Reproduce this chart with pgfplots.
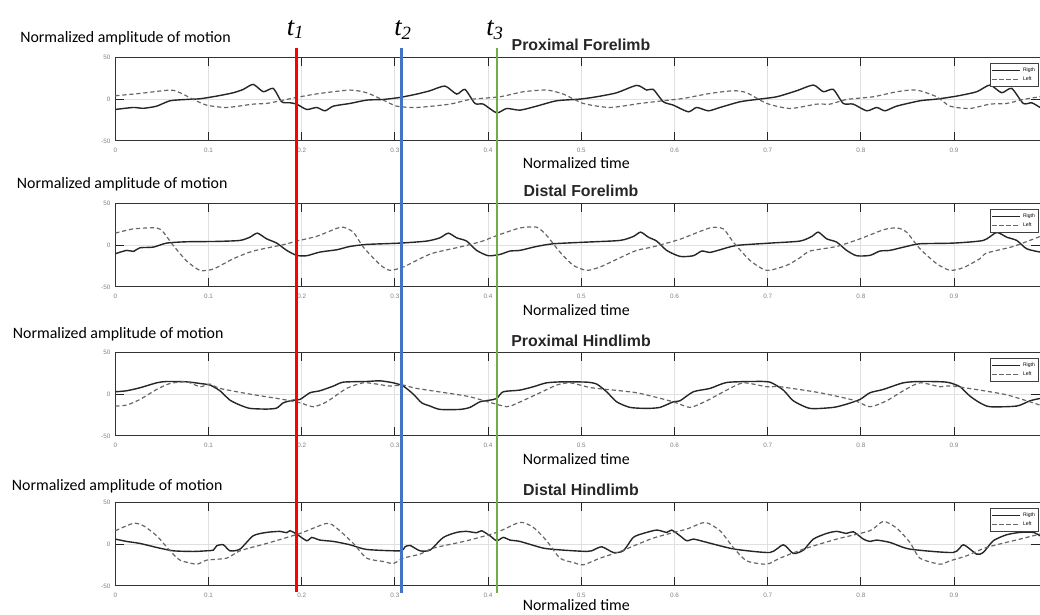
\documentclass[border=0pt]{standalone}
\usepackage{fontspec}
\setmainfont{Carlito}
\newfontfamily\arialf{Liberation Sans}
\newfontfamily\timesf{Liberation Serif}
\usepackage{pgfplots}
\pgfplotsset{compat=1.18}
\definecolor{tred}{RGB}{255,0,0}
\definecolor{tblue}{RGB}{68,114,196}
\definecolor{tgreen}{RGB}{112,173,71}

\pgfplotsset{
  panel/.style={
    scale only axis, width=23.1175cm, height=2.09cm, anchor=north west,
    xmin=0, xmax=0.9922, ymin=-50, ymax=50,
    xtick={0,0.1,0.2,0.3,0.4,0.5,0.6,0.7,0.8,0.9},
    xticklabels={0,0.1,0.2,0.3,0.4,0.5,0.6,0.7,0.8,0.9},
    ytick={-50,0,50},
    /pgf/number format/assume math mode=true,
    ticklabel style={font=\arialf\fontsize{4.5}{5}\selectfont, text=black!50},
    xticklabel style={yshift=-1.6pt},
    tick align=inside, major tick length=0.22cm,
    tick style={black!85, line width=0.6pt},
    grid=major, grid style={black!12, line width=0.7pt},
    axis line style={black!80, line width=0.7pt},
    legend style={at={(1,1)}, anchor=north east, xshift=-0.6pt, yshift=-4.3pt,
      font=\arialf\fontsize{3.6}{4}\selectfont, draw=black!75, line width=0.5pt,
      inner sep=0.8pt, row sep=-1.5pt},
    legend cell align=left,
    legend image code/.code={\draw[#1] (0cm,0cm) -- (0.68cm,0cm);},
  },
  rgt/.style={black!85, line width=1pt, smooth, tension=0.4},
  lft/.style={black!60, line width=0.85pt, dash pattern=on 3pt off 2pt, smooth, tension=0.4},
}

\begin{document}
\begin{tikzpicture}
\useasboundingbox (0,0) rectangle (26cm,-15.35cm);

% Proximal Forelimb
\begin{axis}[panel, at={(2.8825cm,-1.4325cm)}]
\addplot[rgt] coordinates {(0,-12.4)(0.0193,-10)(0.0301,-11)(0.0444,-8.4)(0.0587,-2)(0.0766,-0.4)(0.0909,0.4)(0.1088,3.6)(0.1266,7.6)(0.1373,11.6)(0.148,17.6)(0.1588,8.8)(0.1695,12.8)(0.1785,-3.2)(0.1874,-4.4)(0.1946,-6)(0.2054,-12.4)(0.216,-10)(0.225,-14)(0.234,-8.4)(0.2518,-5.2)(0.2697,-1.2)(0.2876,-0.4)(0.3055,2)(0.3234,6)(0.3377,10)(0.3537,15.6)(0.3663,6)(0.3752,11.6)(0.3859,-5.2)(0.3949,-6)(0.4092,-16.4)(0.42,-11.2)(0.4342,-13.2)(0.4521,-8.4)(0.4736,-2)(0.4986,0)(0.5165,2.8)(0.538,7.6)(0.5594,16.4)(0.5702,10.8)(0.5773,11.6)(0.588,-3.2)(0.5987,-7.2)(0.6148,-15.2)(0.6238,-10)(0.6363,-14)(0.6488,-10)(0.6703,-3.2)(0.6882,-0.4)(0.7097,2.8)(0.7311,10)(0.749,16.8)(0.7597,8.8)(0.7704,11.6)(0.7811,-5.2)(0.7918,-6)(0.8062,-14)(0.817,-10)(0.8259,-14)(0.8384,-8.4)(0.8634,-2)(0.8813,0)(0.9028,3.6)(0.9242,8.8)(0.9385,16.8)(0.951,7.6)(0.9618,12.8)(0.9742,-5.2)(0.9833,-4.4)(0.9922,-10)};
\addlegendentry{Rigth}
\addplot[lft] coordinates {(0,4)(0.0265,6.8)(0.0587,10.8)(0.0695,7.6)(0.0837,-0.4)(0.098,-7.2)(0.1195,-10)(0.148,-6)(0.1624,-5.2)(0.1803,-1.2)(0.1982,2.8)(0.2197,6.8)(0.2518,10.8)(0.2697,7.6)(0.2876,-1.2)(0.3019,-8.4)(0.3234,-10)(0.3591,-6)(0.3806,-0.4)(0.4128,2.8)(0.4378,8.8)(0.4628,10.8)(0.4807,6)(0.5022,-5.2)(0.5308,-10)(0.563,-5.2)(0.5844,-2.4)(0.6094,0.8)(0.6381,6.8)(0.6632,10)(0.6775,7.6)(0.699,-5.2)(0.724,-11.2)(0.7526,-6)(0.767,-6)(0.7847,-0.4)(0.8134,2.8)(0.8384,8.8)(0.8598,10.8)(0.8813,2.8)(0.8956,-8.4)(0.917,-11.2)(0.9385,-6)(0.9564,-5.2)(0.9742,-0.4)(0.9922,2.8)};
\addlegendentry{Left}
\end{axis}

% Distal Forelimb
\begin{axis}[panel, at={(2.8825cm,-5.0825cm)}]
\addplot[rgt] coordinates {(0,-10.3)(0.0122,-6.3)(0.0194,-7.5)(0.0265,-3.2)(0.0408,-2.4)(0.0551,2.4)(0.0766,4)(0.1088,4.4)(0.1338,5.6)(0.1445,9.5)(0.1524,14.3)(0.1624,7.5)(0.1732,2.4)(0.1839,-6.3)(0.1946,-12.3)(0.2054,-12.7)(0.2196,-8.3)(0.2375,-5.6)(0.2518,-1.6)(0.2697,0.8)(0.3055,2.4)(0.3341,4.8)(0.3483,8.7)(0.3573,14.3)(0.3663,8.7)(0.377,4.8)(0.3877,-6.3)(0.4002,-12.7)(0.4128,-11.1)(0.4235,-7.1)(0.4342,-6.3)(0.4521,-1.6)(0.47,1.6)(0.5058,3.6)(0.5416,5.6)(0.5558,10.3)(0.5637,15.5)(0.5719,9.5)(0.5809,4.8)(0.5916,-6.3)(0.6059,-13.5)(0.6202,-12.7)(0.6292,-7.1)(0.6381,-8.7)(0.6488,-5.6)(0.6667,-0.4)(0.7024,2.4)(0.7346,4.8)(0.7472,10.3)(0.7543,15.5)(0.7633,7.5)(0.774,3.6)(0.7847,-6.3)(0.7954,-12.7)(0.8097,-12.3)(0.8204,-7.1)(0.8311,-6.3)(0.849,-1.6)(0.8634,1.6)(0.8991,2.4)(0.9313,5.6)(0.9456,15.1)(0.9564,9.5)(0.9672,5.6)(0.9779,-4.4)(0.9922,-8.3)};
\addlegendentry{Rigth}
\addplot[lft] coordinates {(0,14.3)(0.0194,19.4)(0.0444,20.6)(0.0515,15.5)(0.0622,-0.4)(0.0766,-19)(0.0909,-30.2)(0.1052,-28.6)(0.1266,-16.3)(0.148,-7.1)(0.1803,0.5)(0.1946,4.8)(0.216,10.5)(0.2375,20)(0.2446,21.4)(0.2554,15.5)(0.2661,-2.4)(0.284,-23.4)(0.2947,-30.2)(0.309,-26.2)(0.3269,-16.3)(0.3412,-9.5)(0.377,-0.4)(0.3946,5)(0.4096,11.5)(0.4342,20.5)(0.4521,21.4)(0.4628,11.5)(0.4771,-8.3)(0.4914,-24.2)(0.5058,-30.2)(0.5201,-26.2)(0.5416,-15.1)(0.5594,-6.3)(0.5773,-2)(0.6059,7)(0.6381,20.6)(0.6524,19.4)(0.6631,3.6)(0.681,-18.3)(0.6989,-30.2)(0.7204,-24.2)(0.7346,-15.1)(0.7454,-7.1)(0.774,-1.6)(0.799,7.5)(0.8241,18.3)(0.8384,20.6)(0.849,15.5)(0.8634,-4.4)(0.8813,-22.2)(0.8956,-30.2)(0.9099,-27)(0.9277,-16.3)(0.9349,-9.5)(0.9635,-1.6)(0.9922,10.3)};
\addlegendentry{Left}
\end{axis}

% Proximal Hindlimb
\begin{axis}[panel, at={(2.8825cm,-8.8075cm)}]
\addplot[rgt] coordinates {(0,2.8)(0.0122,4)(0.0265,7.6)(0.0444,13.5)(0.0551,15.1)(0.0766,14.7)(0.0909,12.7)(0.1016,10.8)(0.1123,4)(0.123,-7.2)(0.1338,-13.1)(0.1445,-17.1)(0.1624,-17.9)(0.1732,-16.7)(0.1803,-10.4)(0.191,-7.2)(0.1982,-6.4)(0.2089,1.6)(0.2196,4)(0.234,9.6)(0.2446,14.3)(0.2697,15.1)(0.284,15.9)(0.2983,13.5)(0.309,9.6)(0.3197,0)(0.3287,-10.4)(0.3377,-14.3)(0.3483,-18.3)(0.3698,-18.3)(0.3805,-15.9)(0.3913,-9.2)(0.402,-7.2)(0.4092,-5.2)(0.4163,2.8)(0.4342,4.8)(0.4485,8.8)(0.4628,13.5)(0.4807,14.7)(0.5058,14.3)(0.5165,12)(0.5272,2.8)(0.5379,-9.2)(0.5522,-15.9)(0.5701,-17.1)(0.5844,-15.9)(0.5987,-9.2)(0.6059,-8)(0.6202,2.8)(0.6381,6.8)(0.656,13.9)(0.6846,15.1)(0.7024,14.3)(0.7168,4.8)(0.7275,-8)(0.7454,-17.1)(0.7704,-15.9)(0.7847,-12)(0.799,-6.4)(0.8097,1.6)(0.824,5.6)(0.8455,13.5)(0.8634,15.1)(0.892,14.3)(0.9063,8.8)(0.917,-2.4)(0.9277,-10.4)(0.9385,-15.1)(0.9671,-14.3)(0.9814,-8)(0.9922,-5.2)};
\addlegendentry{Rigth}
\addplot[lft] coordinates {(0,-14.3)(0.0122,-13.1)(0.0265,-6.4)(0.0444,5.6)(0.0587,12.7)(0.0766,14.7)(0.0909,8.8)(0.1016,12)(0.1123,6.8)(0.1445,0)(0.1803,-6.4)(0.1982,-10.4)(0.2125,-15.1)(0.2268,-9.2)(0.2482,6.8)(0.2661,13.5)(0.2804,12)(0.2947,9.6)(0.309,10.8)(0.3234,6.8)(0.377,-2.4)(0.3984,-8.8)(0.4199,-15.1)(0.4306,-11.2)(0.4557,1.6)(0.4736,10.8)(0.4878,13.5)(0.5058,8.8)(0.5165,6.8)(0.5594,1.6)(0.5987,-9.2)(0.6166,-15.9)(0.6345,-8)(0.656,4.8)(0.6739,13.5)(0.699,8.8)(0.7132,8.8)(0.7561,1.6)(0.7919,-7.2)(0.8097,-15.1)(0.8276,-8)(0.8455,4)(0.8634,13.5)(0.8848,8.8)(0.8991,9.6)(0.9528,0)(0.9779,-8)(0.9922,-13.1)};
\addlegendentry{Left}
\end{axis}

% Distal Hindlimb
\begin{axis}[panel, at={(2.8825cm,-12.5575cm)}]
\addplot[rgt] coordinates {(0,6)(0.0122,3.2)(0.0265,0.8)(0.0444,-4)(0.0622,-8)(0.0837,-8.8)(0.098,-8)(0.1052,-7.2)(0.1088,-2)(0.1159,-0.8)(0.1231,-8)(0.1338,-6)(0.148,10)(0.1624,14)(0.1767,15.2)(0.1839,13.6)(0.1874,16)(0.1946,12)(0.2054,4)(0.2107,8)(0.2196,4.8)(0.234,3.2)(0.2518,-0.8)(0.2697,-6.4)(0.3055,-8)(0.3109,-3.2)(0.3163,-1.6)(0.3269,-8)(0.3377,-7.2)(0.352,8)(0.3663,14)(0.377,15.2)(0.3877,13.6)(0.393,16)(0.402,10)(0.4092,4)(0.4163,8)(0.4235,4.8)(0.4342,3.2)(0.4593,-4.8)(0.4807,-7.2)(0.5058,-8.8)(0.5112,-8)(0.5219,-3.2)(0.5344,-10)(0.5451,-8)(0.5558,8)(0.5665,12.8)(0.5809,16.8)(0.5916,14)(0.597,16.8)(0.6059,10)(0.6131,4)(0.6202,6)(0.6309,3.2)(0.6488,-2)(0.6667,-6.4)(0.7024,-10)(0.7168,-0.8)(0.7275,-11.2)(0.7383,-7.2)(0.749,6)(0.7633,12.8)(0.774,15.2)(0.7847,12.8)(0.7919,14.8)(0.8026,6)(0.8097,3.2)(0.8169,4.8)(0.8312,2)(0.8527,-6)(0.8991,-10)(0.9099,-0.8)(0.9242,-12)(0.9313,-10)(0.942,4)(0.9564,11.2)(0.9707,14)(0.985,14)(0.9922,10)};
\addlegendentry{Rigth}
\addplot[lft] coordinates {(0,16)(0.0193,24.8)(0.0301,22)(0.0444,10)(0.0587,-8)(0.0695,-19.2)(0.0873,-24)(0.098,-19.2)(0.1195,-16.8)(0.1338,-8)(0.1624,0.8)(0.1982,12.8)(0.2268,24.8)(0.2375,19.2)(0.2554,0.8)(0.2697,-16.8)(0.2876,-20.8)(0.2983,-23.2)(0.309,-16.8)(0.3269,-12)(0.3412,-4.8)(0.377,4)(0.4092,14)(0.4342,26)(0.4485,20)(0.4628,4)(0.4771,-16.8)(0.4914,-22)(0.5022,-24.8)(0.5201,-16.8)(0.5416,-8.8)(0.5773,7.2)(0.6131,18)(0.6327,26)(0.6488,16)(0.6631,-4)(0.6774,-20)(0.6989,-24)(0.7132,-16.8)(0.7383,-6)(0.774,6)(0.8097,16)(0.824,27.2)(0.8383,19.2)(0.8526,2)(0.8634,-16.8)(0.8848,-24)(0.8956,-20)(0.9134,-14)(0.9349,-4)(0.9707,6)(0.9922,12)};
\addlegendentry{Left}
\end{axis}

% titles and labels
\begin{scope}[every node/.style={inner sep=0pt}]
\foreach \yb/\tt in {1.25/Proximal Forelimb, 4.9/Distal Forelimb, 8.65/Proximal Hindlimb, 12.375/Distal Hindlimb}
  \node[anchor=base, font=\arialf\bfseries\fontsize{11.3}{12}\selectfont, text=black!85] at (14.525cm,-\yb cm) {\tt};
\node[anchor=base west, font=\fontsize{11.3}{13}\selectfont] at (0.5cm,-1.0675cm) {Normalized amplitude of motion};
\node[anchor=base west, font=\fontsize{11.3}{13}\selectfont] at (0.4175cm,-4.7075cm) {Normalized amplitude of motion};
\node[anchor=base west, font=\fontsize{11.3}{13}\selectfont] at (0.3175cm,-8.4575cm) {Normalized amplitude of motion};
\node[anchor=base west, font=\fontsize{11.3}{13}\selectfont] at (0.2925cm,-12.25cm) {Normalized amplitude of motion};
\foreach \yb in {4.21, 7.875, 11.6, 15.27}
  \node[anchor=base west, font=\fontsize{11.3}{13}\selectfont] at (13.0625cm,-\yb cm) {Normalized time};
\end{scope}

% time markers
\draw[tred, line width=2pt] (7.4075cm,-1.2cm) -- (7.4075cm,-14.81cm);
\draw[tblue, line width=2pt] (10.0425cm,-1.2cm) -- (10.0425cm,-14.83cm);
\draw[tgreen, line width=2pt] (12.425cm,-1.2cm) -- (12.425cm,-14.83cm);
\node[anchor=base, inner sep=0pt, font=\timesf\itshape\fontsize{19}{20}\selectfont] at (7.3875cm,-0.875cm) {t\textsubscript{1}};
\node[anchor=base, inner sep=0pt, font=\timesf\itshape\fontsize{19}{20}\selectfont] at (10.075cm,-0.875cm) {t\textsubscript{2}};
\node[anchor=base, inner sep=0pt, font=\timesf\itshape\fontsize{19}{20}\selectfont] at (12.375cm,-0.875cm) {t\textsubscript{3}};
\end{tikzpicture}
\end{document}
